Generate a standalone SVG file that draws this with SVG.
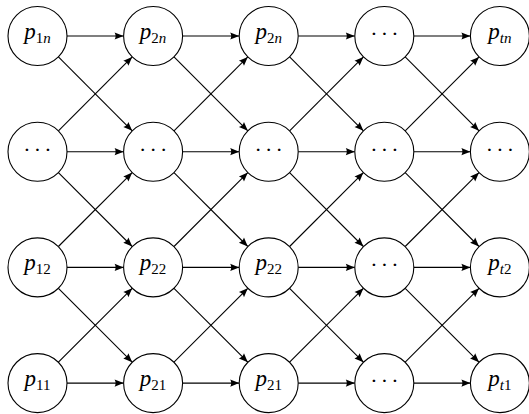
<svg xmlns="http://www.w3.org/2000/svg" width="529" height="414" viewBox="0 0 529 414">
  <style>
    .node circle { fill: #ffffff; stroke: #000000; stroke-width: 1.1; }
    .node text { font-family: "Liberation Serif", "Times New Roman", serif; fill: #000000; text-anchor: middle; }
    .lbl { font-style: italic; font-size: 23px; }
    .sub { font-size: 15px; font-style: normal; }
    .sub.it { font-style: italic; }
    .dots { font-size: 22px; }
    #edges path { fill: none; stroke: #000000; stroke-width: 1.1; marker-end: url(#arrow); }
  </style>
  <defs>
    <marker id="arrow" markerUnits="userSpaceOnUse" markerWidth="12" markerHeight="10" viewBox="-10 -5 12 10" refX="0" refY="0" orient="auto">
      <path d="M0,0 L-9,-3.6 Q-7,0 -9,3.6 Z" fill="#000000"/>
    </marker>
  </defs>

  <rect width="529" height="414" fill="#ffffff"/>

  <!-- connectors: horizontal and diagonal links between neighbouring columns -->
  <g id="edges">
    <!-- row n -->
    <path d="M67,36 H123.6"/>
    <path d="M182.6,36 H239.2"/>
    <path d="M298.2,36 H354.8"/>
    <path d="M413.8,36 H470.4"/>
    <!-- row ... -->
    <path d="M67,151.7 H123.6"/>
    <path d="M182.6,151.7 H239.2"/>
    <path d="M298.2,151.7 H354.8"/>
    <path d="M413.8,151.7 H470.4"/>
    <!-- row 2 -->
    <path d="M67,267.4 H123.6"/>
    <path d="M182.6,267.4 H239.2"/>
    <path d="M298.2,267.4 H354.8"/>
    <path d="M413.8,267.4 H470.4"/>
    <!-- row 1 -->
    <path d="M67,383.1 H123.6"/>
    <path d="M182.6,383.1 H239.2"/>
    <path d="M298.2,383.1 H354.8"/>
    <path d="M413.8,383.1 H470.4"/>

    <!-- diagonals between row n and row ... -->
    <path d="M58.4,56.9 L132.2,130.8"/>
    <path d="M58.4,130.8 L132.2,56.9"/>
    <path d="M174,56.9 L247.8,130.8"/>
    <path d="M174,130.8 L247.8,56.9"/>
    <path d="M289.6,56.9 L363.4,130.8"/>
    <path d="M289.6,130.8 L363.4,56.9"/>
    <path d="M405.2,56.9 L479,130.8"/>
    <path d="M405.2,130.8 L479,56.9"/>

    <!-- diagonals between row ... and row 2 -->
    <path d="M58.4,172.6 L132.2,246.5"/>
    <path d="M58.4,246.5 L132.2,172.6"/>
    <path d="M174,172.6 L247.8,246.5"/>
    <path d="M174,246.5 L247.8,172.6"/>
    <path d="M289.6,172.6 L363.4,246.5"/>
    <path d="M289.6,246.5 L363.4,172.6"/>
    <path d="M405.2,172.6 L479,246.5"/>
    <path d="M405.2,246.5 L479,172.6"/>

    <!-- diagonals between row 2 and row 1 -->
    <path d="M58.4,288.3 L132.2,362.2"/>
    <path d="M58.4,362.2 L132.2,288.3"/>
    <path d="M174,288.3 L247.8,362.2"/>
    <path d="M174,362.2 L247.8,288.3"/>
    <path d="M289.6,288.3 L363.4,362.2"/>
    <path d="M289.6,362.2 L363.4,288.3"/>
    <path d="M405.2,288.3 L479,362.2"/>
    <path d="M405.2,362.2 L479,288.3"/>
  </g>

  <!-- row n -->
  <g id="p1n" class="node"><circle cx="37.5" cy="36" r="29.5"/>
    <text class="lbl" x="37.5" y="39">p<tspan class="sub" dy="3.5">1</tspan><tspan class="sub it">n</tspan></text></g>
  <g id="p2n_a" class="node"><circle cx="153.1" cy="36" r="29.5"/>
    <text class="lbl" x="153.1" y="39">p<tspan class="sub" dy="3.5">2</tspan><tspan class="sub it">n</tspan></text></g>
  <g id="p2n_b" class="node"><circle cx="268.7" cy="36" r="29.5"/>
    <text class="lbl" x="268.7" y="39">p<tspan class="sub" dy="3.5">2</tspan><tspan class="sub it">n</tspan></text></g>
  <g id="dots_n" class="node"><circle cx="384.3" cy="36" r="29.5"/>
    <text class="dots" y="41"><tspan x="373.8">·</tspan><tspan x="384.3">·</tspan><tspan x="394.8">·</tspan></text></g>
  <g id="ptn" class="node"><circle cx="499.9" cy="36" r="29.5"/>
    <text class="lbl" x="499.9" y="39">p<tspan class="sub it" dy="3.5">tn</tspan></text></g>

  <!-- row ... -->
  <g id="dots_1" class="node"><circle cx="37.5" cy="151.7" r="29.5"/>
    <text class="dots" y="156.7"><tspan x="27">·</tspan><tspan x="37.5">·</tspan><tspan x="48">·</tspan></text></g>
  <g id="dots_2" class="node"><circle cx="153.1" cy="151.7" r="29.5"/>
    <text class="dots" y="156.7"><tspan x="142.6">·</tspan><tspan x="153.1">·</tspan><tspan x="163.6">·</tspan></text></g>
  <g id="dots_3" class="node"><circle cx="268.7" cy="151.7" r="29.5"/>
    <text class="dots" y="156.7"><tspan x="258.2">·</tspan><tspan x="268.7">·</tspan><tspan x="279.2">·</tspan></text></g>
  <g id="dots_4" class="node"><circle cx="384.3" cy="151.7" r="29.5"/>
    <text class="dots" y="156.7"><tspan x="373.8">·</tspan><tspan x="384.3">·</tspan><tspan x="394.8">·</tspan></text></g>
  <g id="dots_t" class="node"><circle cx="499.9" cy="151.7" r="29.5"/>
    <text class="dots" y="156.7"><tspan x="489.4">·</tspan><tspan x="499.9">·</tspan><tspan x="510.4">·</tspan></text></g>

  <!-- row 2 -->
  <g id="p12" class="node"><circle cx="37.5" cy="267.4" r="29.5"/>
    <text class="lbl" x="37.5" y="270.4">p<tspan class="sub" dy="3.5">12</tspan></text></g>
  <g id="p22_a" class="node"><circle cx="153.1" cy="267.4" r="29.5"/>
    <text class="lbl" x="153.1" y="270.4">p<tspan class="sub" dy="3.5">22</tspan></text></g>
  <g id="p22_b" class="node"><circle cx="268.7" cy="267.4" r="29.5"/>
    <text class="lbl" x="268.7" y="270.4">p<tspan class="sub" dy="3.5">22</tspan></text></g>
  <g id="dots_r2" class="node"><circle cx="384.3" cy="267.4" r="29.5"/>
    <text class="dots" y="272.4"><tspan x="373.8">·</tspan><tspan x="384.3">·</tspan><tspan x="394.8">·</tspan></text></g>
  <g id="pt2" class="node"><circle cx="499.9" cy="267.4" r="29.5"/>
    <text class="lbl" x="499.9" y="270.4">p<tspan class="sub it" dy="3.5">t</tspan><tspan class="sub">2</tspan></text></g>

  <!-- row 1 -->
  <g id="p11" class="node"><circle cx="37.5" cy="383.1" r="29.5"/>
    <text class="lbl" x="37.5" y="386.1">p<tspan class="sub" dy="3.5">11</tspan></text></g>
  <g id="p21_a" class="node"><circle cx="153.1" cy="383.1" r="29.5"/>
    <text class="lbl" x="153.1" y="386.1">p<tspan class="sub" dy="3.5">21</tspan></text></g>
  <g id="p21_b" class="node"><circle cx="268.7" cy="383.1" r="29.5"/>
    <text class="lbl" x="268.7" y="386.1">p<tspan class="sub" dy="3.5">21</tspan></text></g>
  <g id="dots_r1" class="node"><circle cx="384.3" cy="383.1" r="29.5"/>
    <text class="dots" y="388.1"><tspan x="373.8">·</tspan><tspan x="384.3">·</tspan><tspan x="394.8">·</tspan></text></g>
  <g id="pt1" class="node"><circle cx="499.9" cy="383.1" r="29.5"/>
    <text class="lbl" x="499.9" y="386.1">p<tspan class="sub it" dy="3.5">t</tspan><tspan class="sub">1</tspan></text></g>
</svg>
